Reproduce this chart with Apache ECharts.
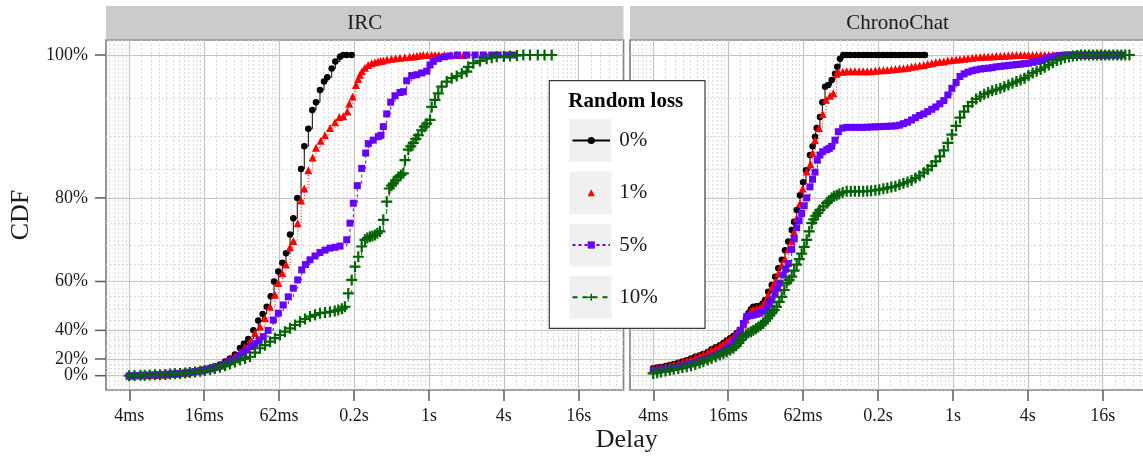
<!DOCTYPE html>
<html>
<head>
<meta charset="utf-8">
<title>Delay CDF</title>
<script src="https://cdn.jsdelivr.net/npm/echarts@6/dist/echarts.min.js"></script>
<style>
  html, body { margin: 0; padding: 0; background: #fff; }
  #chart { width: 1143px; height: 460px; }
</style>
</head>
<body>
<div id="chart"></div>
<script>
// facets and legend entries
const panels = ['IRC', 'ChronoChat']
const lossLevels = ['0%', '1%', '5%', '10%']

// x ticks (delay in seconds) and labels
const xTickSec = [0.00390625, 0.015625, 0.0625, 0.25, 1, 4, 16]
const xTickLabels = ['4ms', '16ms', '62ms', '0.2s', '1s', '4s', '16s']
// y ticks (CDF %)
const yTickPct = [0, 20, 40, 60, 80, 100]
const yTickLabels = ['0%', '20%', '40%', '60%', '80%', '100%']
const yMinorPct = [5, 10, 15, 25, 30, 35, 45, 50, 55, 65, 70, 75, 85, 90, 95]

// [delay in ms, CDF in %]
const ircLoss0 = [[3.9,0],[4.3,0.3],[4.8,0.6],[5.2,0.8],[5.7,1.1],[6.3,1.3],[6.9,1.6],[7.6,2],[8.3,2.6],[9.1,3.1],[10,3.7],[11,4.4],[12,5.2],[13.2,6.4],[14.5,7.6],[15.8,9],[17.4,10.5],[19,12.5],[20.9,14.5],[23,17.5],[25.2,20.5],[27.6,24],[30.3,29],[32.6,32],[35.3,35],[38.8,40],[42.5,45],[46.1,48],[49.7,51],[53.5,55],[56.9,60],[61.6,63],[66.3,65.5],[71,68],[76.5,72.5],[81.3,76],[87.5,80],[93.8,85],[99.6,88.5],[107.3,91],[115.6,93.5],[123.7,94.5],[133.2,96],[143.5,97],[152.5,97.5],[165.4,98.5],[176.9,99.3],[192.9,99.8],[205,100],[218.4,100],[239.6,100]]
const ircLoss1 = [[3.9,0],[4.3,0.3],[4.8,0.6],[5.2,0.8],[5.7,1.1],[6.3,1.3],[6.9,1.6],[7.6,2],[8.3,2.6],[9.1,3.1],[10,3.7],[11,4.4],[12,5.2],[13.2,6.3],[14.5,7.5],[15.8,8.8],[17.4,10.2],[19,12],[20.9,14],[23,16.5],[25.2,19.5],[27.6,22.5],[30.3,26],[33,29.5],[36.5,33.3],[40,38.5],[43.9,42],[48.2,46],[52.8,51],[57.9,55.5],[61.6,59.5],[66.3,62.5],[71,65],[76.5,69.5],[81.3,71],[88.2,75],[93.8,79.5],[99.6,81.7],[107.3,84.8],[116.4,86.8],[123.7,88.3],[135,89.3],[146.2,90.1],[160.3,91.1],[175.9,91.9],[190.4,92.6],[205,92.7],[220.8,93.3],[229,94.3],[244,95.2],[259,96.6],[270,97.3],[279,97.8],[290,98.2],[306,98.6],[325,98.9],[347,99.1],[368,99.2],[390,99.3],[410,99.35],[430,99.4],[460,99.5],[500,99.6],[540,99.65],[586,99.7],[640,99.75],[700,99.8],[750,99.85],[800,99.9],[850,99.95],[901,100],[970,100],[1050,100],[1120,100],[1200,100],[1330,100],[1500,100],[1680,100],[1890,100]]
const ircLoss5 = [[3.9,0],[4.3,0.3],[4.8,0.6],[5.2,0.8],[5.7,1.1],[6.3,1.3],[6.9,1.6],[7.6,2],[8.3,2.5],[9.1,3],[10,3.5],[11,4.2],[12,5],[13.2,6],[14.5,7],[15.8,8.2],[17.4,9.5],[19,11],[20.9,12.5],[23,15],[25.2,17.5],[27.6,20],[30.3,23],[32.3,25.5],[34.3,27.5],[37,30],[40,32],[43.2,34.2],[46.6,36.4],[51,40],[56.1,45.2],[61.6,48.3],[67.5,51.7],[74.1,54.8],[81.3,57.8],[88.2,60.5],[95,63.5],[102,65],[110.7,66.3],[121.5,67.3],[133.2,68.2],[146.2,68.8],[160.3,69.3],[175.9,69.5],[192.9,69.8],[218.4,71.3],[232,75],[246.8,79],[265.7,82.2],[288.3,85.1],[310.4,87.5],[325.8,88.9],[357,89.4],[392,89.9],[412,90.1],[430,91.3],[458,93],[493,94.5],[534,95.3],[586,95.7],[623,95.8],[663,97.1],[727,97.7],[798,97.8],[875,98],[960,98.2],[1021,98.9],[1085,99.3],[1190,99.6],[1330,99.8],[1478,99.9],[1700,100],[2012,100],[2350,100],[2737,100],[3200,100],[3600,100],[4200,100],[4770,100]]
const ircLoss10 = [[3.9,0],[4.3,0.3],[4.8,0.6],[5.2,0.8],[5.7,1.1],[6.3,1.3],[6.9,1.6],[7.6,2],[8.3,2.5],[9.1,3],[10,3.5],[11,4.1],[12,4.8],[13.2,5.6],[14.5,6.5],[15.8,7.5],[17.4,8.6],[19,10],[20.9,11.5],[23,13],[25.2,15],[27.6,17],[30.3,19],[33.3,20.5],[36.5,22],[40,25.5],[43.9,28.8],[48.2,31],[52.8,33.3],[57.9,35.5],[63.5,37.4],[69.7,39.3],[76.5,41.1],[84,42.8],[92,44.4],[101,45.7],[110.7,46.8],[121.5,47.6],[133.2,48.3],[146.2,48.6],[160.3,48.9],[175,49.2],[187,49.7],[200,50.2],[211.7,51],[225,56],[239.6,60.5],[254.7,64.4],[270.7,67.1],[288.3,69.7],[306,71.3],[320,71.7],[336,72],[352,72.2],[368.7,72.4],[385,72.8],[404,73.2],[430,75.7],[458,79.3],[480,81.7],[500,82.2],[517.5,82.6],[540,83.1],[567.5,83.7],[595,84],[623,84.3],[642.5,86.4],[683,88],[715,88.5],[749,89],[785,89.6],[822,90.1],[875,90.8],[920,91.3],[960,91.7],[1021,92.2],[1053,93.9],[1119,94.8],[1190,95.6],[1267,96.4],[1390,97],[1525,97.4],[1673,97.65],[1835,97.95],[2012,98.15],[2073,98.7],[2275,99.1],[2576,99.35],[2914,99.6],[3200,99.7],[3507,99.8],[4000,99.85],[4488,99.9],[5100,99.95],[5740,100],[6500,100],[7500,100],[8500,100],[9707,100]]

const chronoLoss0 = [[3.9,10.2],[4.2,11],[4.5,11.8],[4.9,12.9],[5.3,14],[5.7,15],[6.2,16.2],[6.7,17.5],[7.25,18.8],[7.85,20.4],[8.5,22],[9.2,23],[9.86,24.3],[10.7,26],[11.5,28],[12.4,29.5],[13.4,31],[14.3,32.5],[15.2,34],[16.2,35.4],[17.2,36.8],[18.3,38.5],[19.4,40.2],[20.7,43.6],[21.7,46],[22.7,48.3],[23.8,50],[24.9,51],[26.5,51.2],[28.1,51.3],[29.5,52.3],[30.9,53.6],[32.8,56.6],[35,58.9],[37.2,61.5],[39.5,64],[42.1,66.3],[44.7,68.8],[47.5,70.9],[50.6,73.5],[52.8,75.3],[55.5,77.7],[59,80.5],[62.5,82.8],[65.9,84.8],[71,87.2],[74.5,88.5],[77.9,89.9],[80.4,91.1],[85.4,92.6],[89.2,94.5],[93.8,96.4],[99.6,96.6],[106.1,97.2],[112.8,97.9],[117.7,98.7],[123.7,99.6],[131.5,100],[140,100],[150,100],[163,100],[176,100],[190,100],[205,100],[220,100],[238,100],[256,100],[276,100],[297,100],[320,100],[345,100],[372,100],[400,100],[432,100],[465,100],[500,100],[540,100],[580,100],[596,100]]
const chronoLoss1 = [[3.9,9.8],[4.2,10.6],[4.5,11.5],[4.9,12.5],[5.3,13.6],[5.7,14.6],[6.2,15.8],[6.7,17],[7.25,18.3],[7.85,19.9],[8.5,21.5],[9.2,22.7],[9.86,24],[10.7,25.8],[11.5,27.5],[12.4,29],[13.4,30.5],[14.3,32],[15.2,33.5],[16.2,35],[17.2,36.5],[18.3,38.2],[19.4,39.8],[20.7,43],[21.7,45.5],[22.7,47.5],[23.8,49.2],[24.9,50],[26.5,50.3],[28.1,50.5],[29.5,51.5],[30.9,52.8],[32.8,55.5],[35,58],[37.2,60],[39.5,62.5],[42.1,64.8],[44.7,66.5],[47.5,69],[50.6,71],[52.8,73],[55.5,76],[59,79],[62,81.7],[66.8,84.6],[71.5,85.8],[74.5,87.5],[77.9,89.4],[83.9,91.1],[89.8,93],[95.5,94.8],[102.8,95.3],[109.3,95.6],[116.4,97.9],[120,98.1],[130,98.15],[140,98.2],[151,98.2],[163,98.2],[176,98.2],[190,98.2],[205,98.2],[220,98.2],[238,98.25],[256,98.3],[276,98.3],[297,98.35],[320,98.4],[345,98.45],[372,98.5],[400,98.55],[432,98.6],[465,98.7],[500,98.75],[540,98.85],[583,98.9],[627,99],[676,99.1],[728,99.2],[785,99.25],[845,99.3],[910,99.4],[981,99.45],[1060,99.5],[1140,99.55],[1230,99.6],[1323,99.65],[1430,99.7],[1536,99.75],[1660,99.78],[1784,99.8],[1920,99.83],[2071,99.85],[2230,99.88],[2405,99.9],[2590,99.93],[2792,99.95],[3010,99.98],[3242,100],[3500,100],[3764,100],[4050,100],[4370,100],[4710,100],[5074,100],[5470,100],[5892,100],[6350,100],[6841,100],[7380,100],[7943,100],[8560,100],[9222,100],[9940,100],[10708,100],[11540,100],[12432,100],[13400,100],[14435,100],[15550,100],[16760,100]]
const chronoLoss5 = [[3.9,7.2],[4.2,7.8],[4.5,8.5],[4.9,9.2],[5.3,10],[5.7,11],[6.2,12],[6.7,13],[7.25,14],[7.85,15.2],[8.5,16.5],[9.2,17.7],[9.86,19],[10.7,20.5],[11.5,22],[12.4,23.4],[13.4,24.9],[14.3,26.5],[15.2,28],[16,30],[16.8,32],[17.5,34],[18.3,36.4],[19.5,40],[20.7,43.6],[22,46.8],[23.4,47.2],[24.9,47.5],[26.5,47.9],[28.1,48.3],[29.9,49.2],[31.9,50.3],[33.5,52],[35,53.6],[37.2,56],[38.9,57.8],[40.7,59.5],[43.3,62],[45.4,63.7],[47.5,65.3],[50.6,69],[53,71.5],[55.5,74],[58,75.5],[60.9,77],[63.8,78.5],[66.8,80],[71,82],[74.4,83.3],[77.9,84.5],[81.3,86.4],[85.4,87.2],[89.8,87.7],[96.7,88],[101.4,88.2],[106.1,88.5],[112.8,89.4],[120,90.6],[130,91.1],[140,91.2],[151,91.2],[163,91.2],[176,91.2],[190,91.2],[205,91.22],[220,91.25],[238,91.27],[256,91.3],[276,91.32],[297,91.35],[320,91.37],[345,91.4],[372,91.5],[400,91.7],[432,91.9],[465,92.2],[500,92.5],[540,92.8],[583,93],[627,93.3],[676,93.6],[728,93.9],[785,94.3],[845,94.7],[910,95.4],[981,96.2],[1060,96.9],[1140,97.6],[1230,97.9],[1323,98.1],[1430,98.25],[1536,98.35],[1660,98.45],[1784,98.5],[1920,98.55],[2071,98.6],[2230,98.7],[2405,98.75],[2590,98.8],[2792,98.85],[3010,98.9],[3242,98.95],[3500,99],[3764,99.05],[4050,99.1],[4370,99.2],[4710,99.3],[5074,99.4],[5470,99.55],[5892,99.7],[6350,99.8],[6841,99.9],[7380,99.95],[7943,100],[8560,100],[9222,100],[9940,100],[10708,100],[11540,100],[12432,100],[13400,100],[14435,100],[15550,100],[16760,100],[18050,100],[19460,100],[21000,100],[22596,100]]
const chronoLoss10 = [[3.9,3.5],[4.2,4.5],[4.5,5.5],[4.9,6.7],[5.3,8],[5.7,9],[6.2,10],[6.7,11],[7.25,12],[7.85,13.2],[8.5,14.5],[9.2,16],[9.86,17.4],[10.7,19],[11.5,20.5],[12.4,22],[13.4,23.5],[14.3,24.8],[15.2,26],[16.2,27.4],[17.2,28.8],[18.1,30.5],[19,32.5],[19.8,34.5],[20.7,36.4],[21.7,37.5],[22.7,38.5],[23.8,39.3],[24.9,40],[26.1,40.9],[27.3,41.8],[28.6,42.7],[29.9,43.6],[31.2,44.8],[32.5,46],[33.7,47.2],[35,48.3],[36.6,49.6],[38.3,51],[40.2,52.9],[42.1,54.8],[44.1,57.2],[46.1,59.5],[48.3,60.5],[50.6,61.5],[53,63.3],[55.5,65],[58.2,66.5],[60.9,67.9],[63.8,69.6],[66.8,71.3],[70,73.2],[73.3,75],[76.1,75.8],[79,76.5],[82.2,77.1],[85.4,77.7],[90.9,78.4],[96.7,79],[101.3,79.5],[106,80],[111,80.3],[116.4,80.5],[122,80.7],[130,81],[140,81.2],[151,81.2],[163,81.2],[176,81.2],[190,81.2],[205,81.25],[220,81.3],[238,81.4],[256,81.5],[276,81.65],[297,81.8],[320,81.95],[345,82.1],[372,82.35],[400,82.6],[432,82.85],[465,83.1],[500,83.5],[540,83.9],[583,84.4],[627,84.9],[676,85.5],[728,86.2],[785,87],[845,87.9],[910,89],[981,90.2],[1060,91.4],[1140,92.5],[1230,93.3],[1323,94],[1430,94.5],[1536,94.9],[1660,95.2],[1784,95.5],[1920,95.7],[2071,95.9],[2230,96.05],[2405,96.2],[2590,96.4],[2792,96.6],[3010,96.8],[3242,97],[3500,97.2],[3764,97.4],[4050,97.7],[4370,98],[4710,98.2],[5074,98.4],[5470,98.65],[5892,98.9],[6350,99.15],[6841,99.4],[7380,99.55],[7943,99.7],[8560,99.8],[9222,99.9],[9940,99.95],[10708,100],[11540,100],[12432,100],[13400,100],[14435,100],[15550,100],[16760,100],[18050,100],[19460,100],[21000,100],[22596,100],[24300,100],[26234,100]]

const panelData = [
  [ircLoss0, ircLoss1, ircLoss5, ircLoss10],
  [chronoLoss0, chronoLoss1, chronoLoss5, chronoLoss10]
]

// y is drawn on an exponential scale: position ~ (R^p - 1) / (R - 1)
const R = 14.6
const tY = pct => (Math.pow(R, pct / 100) - 1) / (R - 1)
const tX = ms => Math.log2(ms / 1000)

const serif = '"Liberation Serif", "DejaVu Serif", serif'
const plus = 'path://M4 0H6V4H10V6H6V10H4V6H0V4H4Z'
const looks = [
  { color: '#000000', symbol: 'circle', size: 6.5, dash: 'solid' },
  { color: '#ff0000', symbol: 'triangle', size: 8, dash: [1, 2] },
  { color: '#6600ff', symbol: 'rect', size: 7, dash: [3, 3] },
  { color: '#006400', symbol: plus, size: 11, dash: [5, 5] }
]

const xTicks = xTickSec.map(s => Math.log2(s))
const xMinor = []
for (let k = -10; k <= 4; k += 2) {
  for (let j = 1; j <= 11; j++) xMinor.push(Math.log2(Math.pow(2, k) * (1 + j / 4)))
}
const yTicks = yTickPct.map(tY)
const yMinor = yMinorPct.map(tY)

const xMin = -8.622, xMax = 5.196
const yMin = -0.0446, yMax = 1.0468
const gridLeft = [106, 630]
const gridTop = 40, gridH = 350
const gridW = 517.5

const pick = (vals, labels) => v => {
  const i = vals.findIndex(t => Math.abs(t - v) < 1e-6)
  return i >= 0 ? labels[i] : ''
}

const labelFont = { fontFamily: serif, fontSize: 18, color: '#1a1a1a' }

const grids = [], xAxes = [], yAxes = [], series = []
panels.forEach((name, p) => {
  grids.push({
    left: gridLeft[p], top: gridTop, width: gridW, height: gridH,
    show: true, borderColor: '#858585', borderWidth: 1.7,
    outerBoundsMode: 'none'
  })
  // major axis: labels, ticks, solid grid
  xAxes.push({
    type: 'value', gridIndex: p, min: xMin, max: xMax,
    axisLine: { show: false, onZero: false },
    axisTick: { show: true, customValues: xTicks, length: 11, lineStyle: { color: '#5a5a5a', width: 1.5 } },
    axisLabel: { customValues: xTicks, formatter: pick(xTicks, xTickLabels), margin: 17, ...labelFont },
    splitLine: { show: true, lineStyle: { color: '#c4c4c4', width: 1.2 } }
  })
  // minor axis: dotted grid only
  xAxes.push({
    type: 'value', gridIndex: p, min: xMin, max: xMax,
    axisLine: { show: false, onZero: false }, axisLabel: { show: false },
    axisTick: { show: false, customValues: xMinor },
    splitLine: { show: true, lineStyle: { color: '#dcdcdc', width: 1, type: [2, 2] } }
  })
  // 0% label sits on its own axis so it is not dropped next to 20%
  yAxes.push({
    type: 'value', gridIndex: p, min: yMin, max: yMax,
    axisLine: { show: false, onZero: false },
    axisTick: { show: false, customValues: yTicks },
    axisLabel: { show: p === 0, customValues: yTicks.slice(1), formatter: pick(yTicks, yTickLabels), margin: 18,
      showMinLabel: true, showMaxLabel: true, ...labelFont },
    splitLine: { show: true, lineStyle: { color: '#c4c4c4', width: 1.2 } }
  })
  yAxes.push({
    type: 'value', gridIndex: p, min: yMin, max: yMax,
    axisLine: { show: false, onZero: false }, axisLabel: { show: false },
    axisTick: { show: false, customValues: yMinor },
    splitLine: { show: true, lineStyle: { color: '#dcdcdc', width: 1, type: [2, 2] } }
  })
  panelData[p].forEach((rows, i) => {
    const lk = looks[i]
    series.push({
      name: lossLevels[i], type: 'line',
      xAxisIndex: p * 2, yAxisIndex: p * 2,
      data: rows.map(r => [tX(r[0]), tY(r[1])]),
      step: 'end',
      symbol: lk.symbol, symbolSize: lk.size,
      itemStyle: { color: lk.color },
      lineStyle: { color: lk.color, width: 1, type: lk.dash },
      emphasis: { disabled: true },
      z: 2 + i
    })
  })
})
yAxes.push({
  type: 'value', gridIndex: 0, min: yMin, max: yMax, position: 'left',
  axisLine: { show: false, onZero: false }, splitLine: { show: false }, axisTick: { show: false },
  axisLabel: { customValues: [yTicks[0]], formatter: pick(yTicks, yTickLabels), margin: 18, ...labelFont }
})

const keyTop = 119.3, keyStep = 52.25
const graphics = [
  { type: 'rect', shape: { x: 106, y: 6, width: gridW, height: 33 }, style: { fill: '#cbcbcb' }, z: 1 },
  { type: 'rect', shape: { x: 630, y: 6, width: gridW + 20, height: 33 }, style: { fill: '#cbcbcb' }, z: 1 },
  { type: 'text', x: 364.75, y: 23, z: 2,
    style: { text: panels[0], fontFamily: serif, fontSize: 21, fill: '#1a1a1a', align: 'center', verticalAlign: 'middle' } },
  { type: 'text', x: 897.5, y: 23, z: 2,
    style: { text: panels[1], fontFamily: serif, fontSize: 21, fill: '#1a1a1a', align: 'center', verticalAlign: 'middle' } },
  { type: 'text', x: 626.7, y: 440, z: 2,
    style: { text: 'Delay', fontFamily: serif, fontSize: 26, fill: '#1a1a1a', align: 'center', verticalAlign: 'middle' } },
  { type: 'text', x: 21, y: 215, rotation: Math.PI / 2, z: 2,
    style: { text: 'CDF', fontFamily: serif, fontSize: 26, fill: '#1a1a1a', align: 'center', verticalAlign: 'middle' } },
  // legend frame
  { type: 'rect', shape: { x: 549.3, y: 80.7, width: 155.7, height: 247.6 },
    style: { fill: '#fff', stroke: '#3a3a3a', lineWidth: 1.2 }, z: 20 },
  { type: 'text', x: 568.3, y: 102, z: 21,
    style: { text: 'Random loss', fontFamily: serif, fontSize: 21, fontWeight: 'bold', fill: '#000', align: 'left', verticalAlign: 'middle' } }
]
lossLevels.forEach((l, i) => {
  graphics.push({ type: 'rect', shape: { x: 569.3, y: keyTop + i * keyStep, width: 42.4, height: 42.6 },
    style: { fill: '#f0f0f0' }, z: 21 })
})

// y tick marks as small filled bars on the left of the IRC panel
const tickPixel = t => gridTop + gridH * (yMax - t) / (yMax - yMin)
yTicks.forEach(t => {
  graphics.push({ type: 'rect', shape: { x: gridLeft[0] - 11, y: tickPixel(t) - 0.75, width: 11, height: 1.5 },
    style: { fill: '#5a5a5a' }, z: 50, zlevel: 1 })
})

const chart = echarts.init(document.getElementById('chart'))
chart.setOption({
  animation: false,
  backgroundColor: '#fff',
  grid: grids,
  xAxis: xAxes,
  yAxis: yAxes,
  legend: {
    data: lossLevels.map(n => n === '1%' ? { name: n, lineStyle: { opacity: 0 } } : { name: n }),
    orient: 'vertical', left: 571.5, top: keyTop, padding: 0,
    itemWidth: 37.5, itemHeight: 9, itemGap: keyStep - 42.4,
    selectedMode: false, z: 30,
    textStyle: { fontFamily: serif, fontSize: 21, color: '#1a1a1a', lineHeight: 42.4, padding: [0, 0, 0, 4.3] }
  },
  graphic: graphics,
  series: series
})
</script>
</body>
</html>
